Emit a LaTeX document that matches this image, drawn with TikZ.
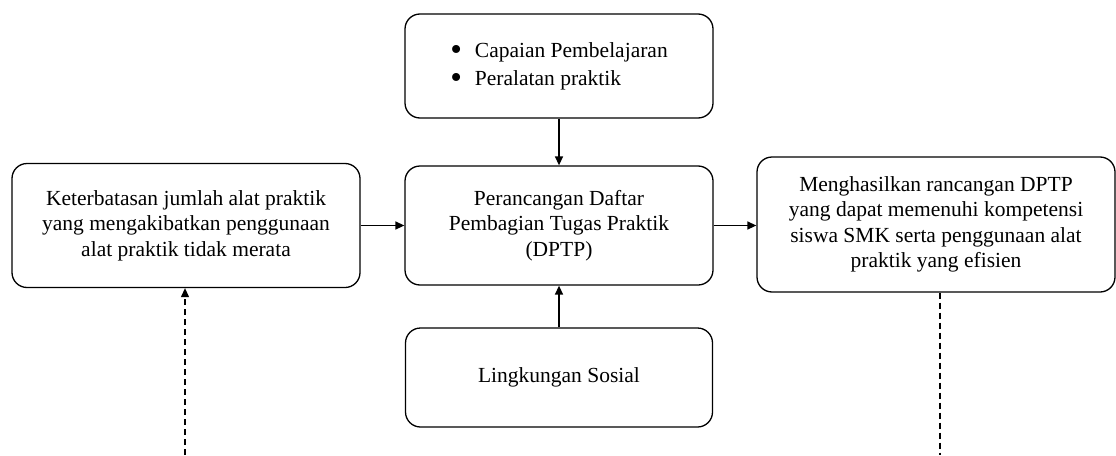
\documentclass[tikz,border=0pt]{standalone}
\usepackage{fontspec}
\setmainfont{Liberation Serif}
\usetikzlibrary{arrows.meta}
\newcommand\bigbul{\raisebox{-0.12em}{\scalebox{1.55}{\textbullet}}}
\begin{document}
\begin{tikzpicture}[x=1pt,y=-1pt,
  box/.style={draw=black,line width=1.3pt,rounded corners=15pt,align=center,
    inner sep=0pt,font=\fontsize{21.5}{25.5}\selectfont},
  conn/.style={line width=1.4pt,-{Triangle[length=9pt,width=8pt]}},
  dconn/.style={line width=1.2pt,dash pattern=on 6pt off 4pt}]
\useasboundingbox (0,0) rectangle (1116,455);
\node[box,minimum width=348pt,minimum height=124pt] (left) at (186,225.5)
  {Keterbatasan jumlah alat praktik\\yang mengakibatkan penggunaan\\alat praktik tidak merata};
\node[box,minimum width=308pt,minimum height=119pt] (center) at (559,225.5)
  {Perancangan Daftar\\Pembagian Tugas Praktik\\(DPTP)};
\node[box,minimum width=308pt,minimum height=104pt] (top) at (559,66)
  {\def\arraystretch{1.12}\begin{tabular}{@{}l@{\hspace{13pt}}l@{}}\bigbul & Capaian Pembelajaran\\ \bigbul & Peralatan praktik\end{tabular}};
\node[box,minimum width=307pt,minimum height=99pt] (bottom) at (559,377.5)
  {Lingkungan Sosial};
\node[box,minimum width=358pt,minimum height=135pt] (right) at (936,224.5)
  {Menghasilkan rancangan DPTP\\yang dapat memenuhi kompetensi\\siswa SMK serta penggunaan alat\\praktik yang efisien};
\coordinate (lfoot) at (185,455);
\coordinate (rfoot) at (940,455);
\draw[conn] (left.east) -- (center.west);
\draw[conn] (center.east) -- (right.west |- center.east);
\draw[conn] (top.south) -- (center.north);
\draw[conn] (bottom.north) -- (center.south);
\draw[dconn,-{Triangle[length=9pt,width=8pt]}] (lfoot) -- (lfoot |- left.south);
\draw[dconn] (rfoot |- right.south) -- (rfoot);
\end{tikzpicture}
\end{document}
